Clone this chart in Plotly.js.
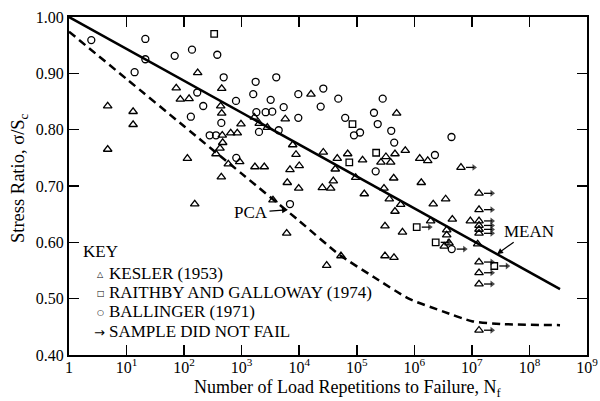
<!DOCTYPE html>
<html><head><meta charset="utf-8">
<script src="https://cdn.plot.ly/plotly-3.0.1.min.js"></script>
<style>html,body{margin:0;padding:0;background:#fff}#chart{width:600px;height:401px}</style>
</head><body><div id="chart"></div>
<script>
// Kesler (1953), failed specimens
const keslerN = [4.7,13,13,4.7,172,73,86,122,114,358,450,432,450,973,2020,2790,5720,16000,460,645,839,468,420,924,586,1700,2470,443,7700,8790,10000,6910,6200,9790,26200,69500,45800,42300,39100,25200,35200,493000,126000,263000,321000,388000,461000,696000,1.24e6,1.71e6,95700,438000,1.32e6,297000,135000,3500,153,6060,367000,579000,461000,2.13e6,3.5e6,4.57e6,1.92e6,9.4e6,309000,622000,3.65e6,3.65e6,3.31e6,4.0e6,309000,443000,53100,30000,1.26e7,1660];
const keslerS = [0.842,0.832,0.809,0.765,0.901,0.874,0.854,0.855,0.749,0.757,0.873,0.842,0.829,0.810,0.811,0.804,0.819,0.863,0.790,0.794,0.794,0.777,0.767,0.743,0.739,0.734,0.734,0.716,0.773,0.756,0.736,0.729,0.706,0.696,0.760,0.757,0.749,0.730,0.709,0.697,0.696,0.829,0.746,0.742,0.752,0.742,0.757,0.763,0.749,0.745,0.715,0.714,0.706,0.696,0.686,0.675,0.668,0.616,0.677,0.667,0.655,0.668,0.677,0.641,0.638,0.638,0.629,0.618,0.622,0.613,0.593,0.599,0.576,0.573,0.576,0.559,0.597,0.822];
// Kesler, samples that did not fail
const keslerRunN = [6.46e6,1.33e7,1.33e7,1.33e7,1.33e7,1.33e7,1.33e7,1.33e7,1.33e7,1.33e7,1.33e7];
const keslerRunS = [0.733,0.687,0.658,0.638,0.630,0.623,0.616,0.565,0.546,0.526,0.444];
// Raithby and Galloway (1974)
const raithbyN = [333,84200,74100,217000];
const raithbyS = [0.970,0.810,0.742,0.759];
const raithbyRunN = [1.1e6,2.35e6,2.45e7];
const raithbyRunS = [0.627,0.600,0.558];
// Ballinger (1971)
const ballingerN = [2.44,21.2,21.2,13.8,68.6,137,377,169,215,131,278,358,487,1750,3990,1590,797,3190,9640,26200,47700,5370,23600,443,1800,2610,3400,9640,62900,2000,4400,806,282000,199000,231000,397000,89400,114000,447000,4.42e6,2.28e6,213000,6910];
const ballingerS = [0.959,0.961,0.925,0.902,0.931,0.942,0.933,0.866,0.842,0.823,0.790,0.790,0.893,0.885,0.893,0.863,0.851,0.853,0.863,0.873,0.855,0.840,0.841,0.812,0.831,0.831,0.832,0.821,0.821,0.796,0.799,0.750,0.855,0.830,0.810,0.798,0.790,0.795,0.777,0.787,0.755,0.726,0.668];
const ballingerRunN = [4.46e6];
const ballingerRunS = [0.588];
// Curves
const meanN = [1, 3.4e8];
const meanS = [1.0, 0.517];
const pcaN = [1,10,100,1e3,1e4,5e4,2e5,8e5,3.2e6,1e7,3.2e7,3.4e8];
const pcaS = [0.974,0.890,0.806,0.722,0.638,0.578,0.538,0.500,0.477,0.460,0.455,0.453];
// Ticks
const xTickVals = [1,1e1,1e2,1e3,1e4,1e5,1e6,1e7,1e8,1e9];
const xTickText = ['1','10<sup>1</sup>','10<sup>2</sup>','10<sup>3</sup>','10<sup>4</sup>','10<sup>5</sup>','10<sup>6</sup>','10<sup>7</sup>','10<sup>8</sup>','10<sup>9</sup>'];
const yTickVals = [0.4,0.5,0.6,0.7,0.8,0.9,1.0];
const yTickText = ['0.40','0.50','0.60','0.70','0.80','0.90','1.00'];
const keyLabels = ['KESLER (1953)','RAITHBY AND GALLOWAY (1974)','BALLINGER (1971)','SAMPLE DID NOT FAIL'];
const keySymbols = ['\u25B3','\u25A1','\u25CB','\u2192'];
const xTitle = 'Number of Load Repetitions to Failure, N<sub>f</sub>';
const yTitle = 'Stress Ratio, \u03C3/S<sub>c</sub>';

const serif = 'Liberation Serif, Times New Roman, Times, serif';
const mk = (sym, size) => ({symbol: sym, size: size, color: '#000', line: {color: '#000', width: 1.3}});

// arrows for samples that did not fail: a short segment to the right of each marker
const runN = keslerRunN.concat(raithbyRunN, ballingerRunN);
const runS = keslerRunS.concat(raithbyRunS, ballingerRunS);
const arrX = [], arrY = [], arrSize = [];
const f0 = Math.pow(10, 5 / 57.56), f1 = Math.pow(10, 13 / 57.56);
runN.forEach((n, i) => {
  arrX.push(n * f0, n * f1, null);
  arrY.push(runS[i], runS[i], null);
  arrSize.push(0, 6, 0);
});

const traces = [
  {x: meanN, y: meanS, mode: 'lines', line: {color: '#000', width: 2.5}, hoverinfo: 'skip'},
  {x: pcaN, y: pcaS, mode: 'lines', line: {color: '#000', width: 2.5, dash: '8px,5px', shape: 'spline', smoothing: 0.6}, hoverinfo: 'skip'},
  {x: arrX, y: arrY, mode: 'lines+markers', connectgaps: false, line: {color: '#000', width: 1.3},
    marker: {symbol: 'triangle-right', size: arrSize, color: '#000', line: {width: 0}}, hoverinfo: 'skip'},
  {x: keslerN.concat(keslerRunN), y: keslerS.concat(keslerRunS), mode: 'markers', marker: mk('triangle-up-open', 7.5)},
  {x: raithbyN.concat(raithbyRunN), y: raithbyS.concat(raithbyRunS), mode: 'markers', marker: mk('square-open', 6.5)},
  {x: ballingerN.concat(ballingerRunN), y: ballingerS.concat(ballingerRunS), mode: 'markers', marker: mk('circle-open', 7)}
];

const px2x = p => (p - 69) / 518;
const py2y = p => 1 - (p - 17) / 338;
const annotations = [];
// axis titles
annotations.push({xref: 'paper', yref: 'paper', x: px2x(347), y: py2y(401), xanchor: 'center', yanchor: 'bottom',
  text: xTitle, showarrow: false, borderpad: 0, font: {family: serif, size: 18}});
annotations.push({xref: 'paper', yref: 'paper', x: px2x(19), y: py2y(178), xanchor: 'center', yanchor: 'middle',
  text: yTitle, textangle: -90, showarrow: false, font: {family: serif, size: 18.5}});
// PCA and MEAN labels
annotations.push({x: 3.805, y: 0.658, xref: 'x', yref: 'y', text: 'PCA', showarrow: true, ax: -37, ay: 3,
  arrowhead: 2, arrowsize: 1, arrowwidth: 1.2, arrowcolor: '#000', font: {family: serif, size: 17}});
annotations.push({x: 7.436, y: 0.579, xref: 'x', yref: 'y', text: 'MEAN', showarrow: true, ax: 32, ay: -23,
  arrowhead: 2, arrowsize: 1, arrowwidth: 1.2, arrowcolor: '#000', font: {family: serif, size: 17}});
// KEY
annotations.push({xref: 'paper', yref: 'paper', x: px2x(81), y: py2y(251.5), xanchor: 'left', yanchor: 'middle',
  text: 'KEY', showarrow: false, font: {family: serif, size: 17}});
const rowY = [273, 292, 311.5, 331];
keyLabels.forEach((lab, i) => {
  annotations.push({xref: 'paper', yref: 'paper', x: px2x(107), y: py2y(rowY[i]), xanchor: 'left', yanchor: 'middle',
    text: lab, showarrow: false, font: {family: serif, size: 17}});
  annotations.push({xref: 'paper', yref: 'paper', x: px2x(i === 3 ? 99.5 : 100.5), y: py2y(rowY[i] + 1), xanchor: 'center', yanchor: 'middle',
    text: keySymbols[i], showarrow: false, font: {family: 'DejaVu Sans', size: i === 3 ? 13 : 8}});
});

const axisCommon = {ticks: 'inside', ticklen: 10, tickwidth: 1.5, tickcolor: '#000', showline: true, linewidth: 2,
  linecolor: '#000', mirror: 'ticks', showgrid: false, zeroline: false, automargin: false,
  tickfont: {family: serif, size: 16, color: '#000'}};

const layout = {
  width: 600, height: 401,
  margin: {l: 69, r: 13, t: 17, b: 46},
  paper_bgcolor: '#fff', plot_bgcolor: '#fff',
  showlegend: false,
  font: {family: serif, size: 16, color: '#000'},
  xaxis: Object.assign({}, axisCommon, {type: 'log', range: [0, 9], tickmode: 'array', tickvals: xTickVals, ticktext: xTickText, ticklabelstandoff: -3}),
  yaxis: Object.assign({}, axisCommon, {range: [0.4, 1.0], tickmode: 'array', tickvals: yTickVals, ticktext: yTickText}),
  annotations: annotations
};

Plotly.newPlot('chart', traces, layout, {displayModeBar: false, staticPlot: true});
</script>
</body></html>
